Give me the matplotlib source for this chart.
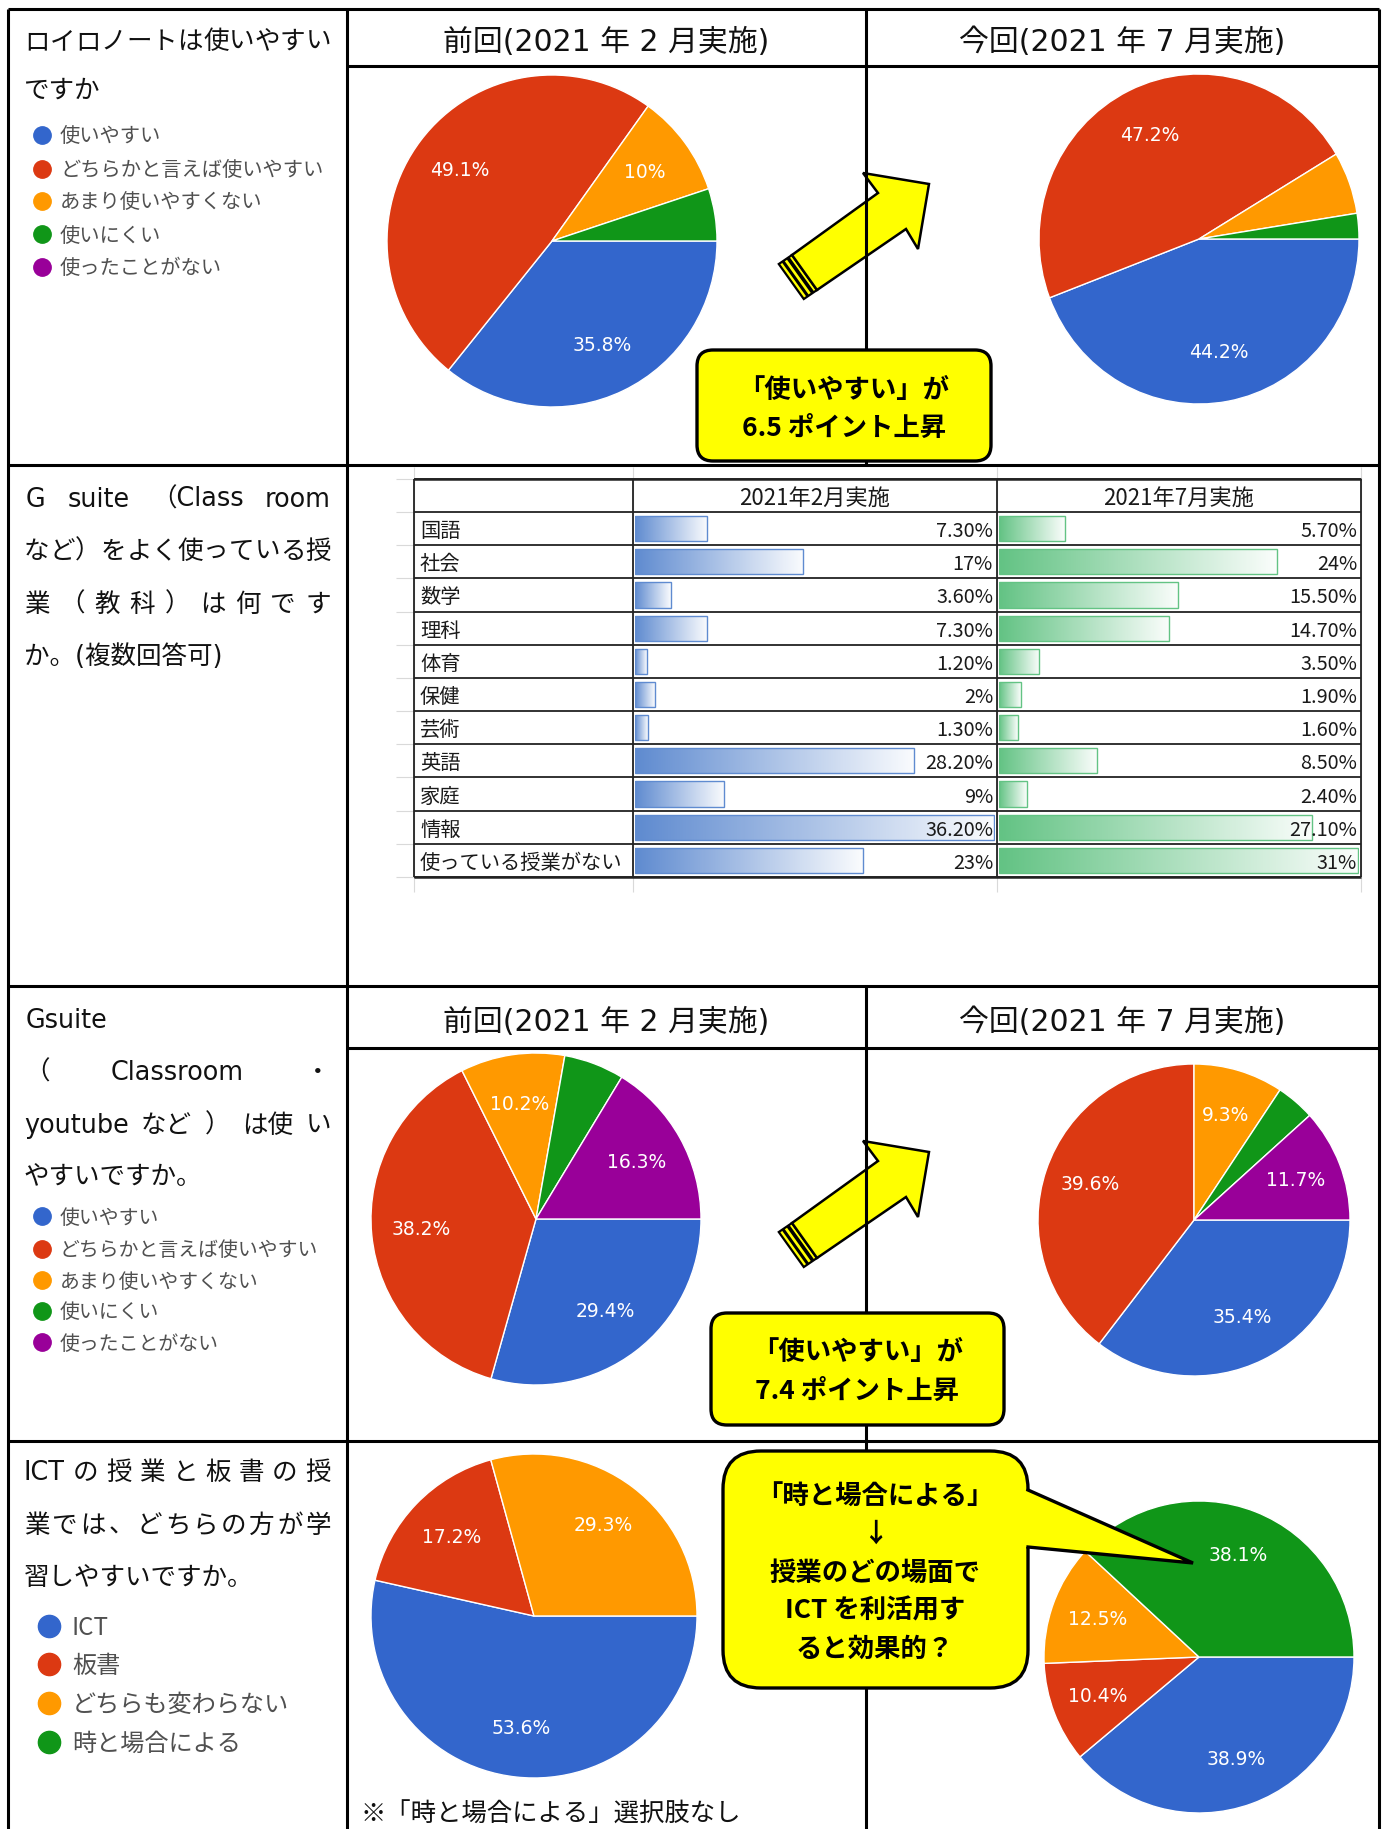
import numpy as np
import matplotlib
matplotlib.use("Agg")
import matplotlib.pyplot as plt
from matplotlib.patches import FancyBboxPatch, Polygon
from matplotlib.colors import LinearSegmentedColormap

# ------------------------------------------------------------------ data
usability_cats = ["使いやすい", "どちらかと言えば使いやすい", "あまり使いやすくない",
                  "使いにくい", "使ったことがない"]
roilo_feb = [35.8, 49.1, 10.0, 5.1, 0.0]
roilo_jul = [44.2, 47.2, 6.1, 2.5, 0.0]
gsuite_feb = [29.4, 38.2, 10.2, 5.9, 16.3]
gsuite_jul = [35.4, 39.6, 9.3, 4.0, 11.7]
ict_cats = ["ICT", "板書", "どちらも変わらない", "時と場合による"]
ict_feb = [53.6, 17.2, 29.3, 0.0]
ict_jul = [38.9, 10.4, 12.5, 38.1]

subjects = ["国語", "社会", "数学", "理科", "体育", "保健", "芸術", "英語", "家庭", "情報",
            "使っている授業がない"]
subj_feb = [7.3, 17.0, 3.6, 7.3, 1.2, 2.0, 1.3, 28.2, 9.0, 36.2, 23.0]
subj_jul = [5.7, 24.0, 15.5, 14.7, 3.5, 1.9, 1.6, 8.5, 2.4, 27.1, 31.0]
subj_feb_labels = ["7.30%", "17%", "3.60%", "7.30%", "1.20%", "2%", "1.30%", "28.20%",
                   "9%", "36.20%", "23%"]
subj_jul_labels = ["5.70%", "24%", "15.50%", "14.70%", "3.50%", "1.90%", "1.60%", "8.50%",
                   "2.40%", "27.10%", "31%"]
table_headers = ["2021年2月実施", "2021年7月実施"]
period_headers = ["前回(2021 年 2 月実施)", "今回(2021 年 7 月実施)"]

# ------------------------------------------------------------------ style
PIE_COLORS = ["#3366CC", "#DC3912", "#FF9900", "#109618", "#990099"]
YELLOW = "#FFFF00"
W, H = 1382, 1829
JP = ["Noto Sans CJK JP", "DejaVu Sans"]
MIX = ["DejaVu Sans", "Noto Sans CJK JP"]
DY = 4  # visual vertical centring correction for CJK text

plt.rcParams["font.family"] = JP
fig = plt.figure(figsize=(W / 100, H / 100), dpi=100)
fig.patch.set_facecolor("white")


def overlay(z):
    ax = fig.add_axes([0, 0, 1, 1])
    ax.set_xlim(0, W)
    ax.set_ylim(H, 0)
    ax.axis("off")
    ax.set_zorder(z)
    return ax


bg = overlay(0)
fg = overlay(10)
renderer = fig.canvas.get_renderer()


def justify(ax, tokens, x0, x1, y, **kw):
    ts = [ax.text(0, y + DY, t, ha="left", va="center", **kw) for t in tokens]
    ws = [t.get_window_extent(renderer).width for t in ts]
    gap = (x1 - x0 - sum(ws)) / max(len(ts) - 1, 1)
    x = x0
    for t, w in zip(ts, ws):
        t.set_x(x)
        x += w + gap


def hline(y, x0, x1, lw=2.2, color="black", ax=None, z=5):
    (ax or bg).plot([x0, x1], [y, y], color=color, lw=lw, solid_capstyle="butt", zorder=z)


def vline(x, y0, y1, lw=2.2, color="black", ax=None, z=5):
    (ax or bg).plot([x, x], [y0, y1], color=color, lw=lw, solid_capstyle="butt", zorder=z)


# ------------------------------------------------------------------ arrows (under grid lines)
def block_arrow(dy):
    pts = np.array([(792, 255), (878, 193), (863, 173), (929, 184), (918, 249),
                    (906, 229), (817, 290)], float)
    pts[:, 1] += dy
    u = np.array([0.826, -0.564])
    a, b = pts[0], pts[-1]
    band = np.array([a, b, b - 16 * u, a - 16 * u])
    bg.add_patch(Polygon(band, closed=True, facecolor=YELLOW, edgecolor="black",
                         lw=1.6, joinstyle="miter", zorder=2))
    for k, lw in ((5, 2.6), (11, 2.2)):
        p, q = a - k * u, b - k * u
        bg.plot([p[0], q[0]], [p[1], q[1]], color="black", lw=lw, zorder=3,
                solid_capstyle="butt")
    bg.add_patch(Polygon(pts, closed=True, facecolor=YELLOW, edgecolor="black",
                         lw=1.8, joinstyle="miter", zorder=3))


block_arrow(0)
block_arrow(968)

# ------------------------------------------------------------------ outer grid
XL, XD1, XD2, XR = 8, 347, 866, 1379
Y_TOP, Y_H1, Y_R1, Y_R2, Y_H3, Y_R3 = 9, 66, 465, 986, 1048, 1441
hline(Y_TOP, XL, XR)
hline(Y_H1, XD1, XR)
hline(Y_R1, XL, XR)
hline(Y_R2, XL, XR)
hline(Y_H3, XD1, XR)
hline(Y_R3, XL, XR)
vline(XL, Y_TOP, H)
vline(XR, Y_TOP, H)
vline(XD1, Y_TOP, H)
vline(XD2, Y_TOP, Y_R1)
vline(XD2, Y_R2, H)

# headers
for yc in ((Y_TOP + Y_H1) / 2, (Y_R2 + Y_H3) / 2):
    bg.text((XD1 + XD2) / 2, yc + DY + 1, period_headers[0], ha="center", va="center",
            fontsize=21.5, family=MIX, color="#111111")
    bg.text((XD2 + XR) / 2, yc + DY + 1, period_headers[1], ha="center", va="center",
            fontsize=21.5, family=MIX, color="#111111")

# ------------------------------------------------------------------ question texts
QK = dict(fontsize=18.4, family=MIX, color="#111111")
QX0, QX1 = 24, 331


def left(x, y, s, **kw):
    bg.text(x, y + DY, s, ha="left", va="center", **kw)


justify(bg, list("ロイロノートは使いやすい"), QX0, QX1, 38, **QK)
left(QX0, 87, "ですか", **QK)

justify(bg, ["G", "suite", "（Class", "room"], QX0 + 2, QX1, 496, **QK)
justify(bg, list("など）をよく使っている授"), QX0, QX1, 548, **QK)
justify(bg, list("業（教科）は何です"), QX0, QX1, 601, **QK)
left(QX0, 653, "か。(複数回答可)", **QK)

left(QX0 + 2, 1017, "Gsuite", **QK)
justify(bg, ["（", "Classroom", "・"], QX0, QX1, 1069, **QK)
justify(bg, ["youtube", "など", "）", "は使", "い"], QX0, QX1, 1122, **QK)
left(QX0, 1173, "やすいですか。", **QK)

justify(bg, ["ICT"] + list("の授業と板書の授"), QX0, QX1, 1469, **QK)
justify(bg, list("業では、どちらの方が学"), QX0, QX1, 1522, **QK)
left(QX0, 1574, "習しやすいですか。", **QK)

left(361, 1811, "※「時と場合による」選択肢なし", fontsize=18.3, color="#111111")


# ------------------------------------------------------------------ legends
def legend(cats, ys, cx, tx, ms, fs):
    for cat, y, col in zip(cats, ys, PIE_COLORS):
        bg.plot([cx], [y + 2], "o", ms=ms, color=col, zorder=4)
        bg.text(tx, y + DY, cat, ha="left", va="center", fontsize=fs, color="#505050")


legend(usability_cats, [133, 167, 199, 232, 265], 42, 60, 12.5, 14.6)
legend(usability_cats, [1214, 1247, 1278, 1309, 1340], 42, 60, 12.5, 14.3)
legend(ict_cats, [1624, 1662, 1701, 1740], 49, 72, 16, 17.4)


# ------------------------------------------------------------------ pies
def draw_pie(cx, cy, rx, ry, values, colors):
    ax = fig.add_axes([(cx - rx) / W, 1 - (cy + ry) / H, 2 * rx / W, 2 * ry / H])
    ax.set_zorder(1)
    vals = [v for v in values if v > 0]
    cols = [c for v, c in zip(values, colors) if v > 0]
    it = iter(vals)

    def fmt(_p):
        v = next(it)
        return f"{v:g}%" if v >= 7 else ""

    ax.pie(vals, colors=cols, startangle=0, counterclock=False, autopct=fmt,
           pctdistance=0.7, wedgeprops=dict(edgecolor="white", linewidth=1.0),
           textprops=dict(color="white", fontsize=13.5, family="DejaVu Sans"))
    ax.set_aspect("auto")
    ax.set_xlim(-1.0, 1.0)
    ax.set_ylim(-1.0, 1.0)
    ax.axis("off")


draw_pie(552, 241, 165, 166, roilo_feb, PIE_COLORS)
draw_pie(1199, 239, 160, 165, roilo_jul, PIE_COLORS)
draw_pie(536, 1219, 165, 166, gsuite_feb, PIE_COLORS)
draw_pie(1194, 1220, 156, 156, gsuite_jul, PIE_COLORS)
draw_pie(534, 1616, 163, 162, ict_feb, PIE_COLORS)
draw_pie(1199, 1657, 155, 156, ict_jul, PIE_COLORS)

# ------------------------------------------------------------------ table (row 2)
TX = [414, 633, 997, 1361]
T_TOP, T_HEAD, T_BOT = 479, 512, 877
n = len(subjects)
rh = (T_BOT - T_HEAD) / n
TDY = 3

# faint spreadsheet gridlines
for x in TX:
    vline(x, 467, 892, lw=0.8, color="#d9d9d9", z=1)
for y in [T_TOP, T_HEAD] + [T_HEAD + (i + 1) * rh for i in range(n)]:
    hline(y, 396, TX[0], lw=0.8, color="#d9d9d9", z=1)

# table borders
ys = [T_TOP, T_HEAD] + [T_HEAD + (i + 1) * rh for i in range(n)]
for y in ys:
    hline(y, TX[0], TX[3], lw=1.3, color="#222222", z=6)
for x in TX:
    vline(x, T_TOP, T_BOT, lw=1.3, color="#222222", z=6)
hline(T_TOP, TX[0], TX[3], lw=1.8, color="#222222", z=6)
hline(T_BOT, TX[0], TX[3], lw=1.8, color="#222222", z=6)

for j, hdr in enumerate(table_headers):
    bg.text((TX[j + 1] + TX[j + 2]) / 2, (T_TOP + T_HEAD) / 2 + TDY, hdr, ha="center",
            va="center", fontsize=16, color="#1a1a1a")
for i, s in enumerate(subjects):
    bg.text(TX[0] + 6, T_HEAD + (i + 0.5) * rh + TDY, s, ha="left", va="center",
            fontsize=14.6, color="#1a1a1a")


def data_bars(x0, x1, values, labels, color):
    ax = fig.add_axes([(x0 + 2) / W, 1 - T_BOT / H, (x1 - x0 - 4) / W, (T_BOT - T_HEAD) / H])
    ax.set_zorder(2)
    cmap = LinearSegmentedColormap.from_list("db", [color, "#FFFFFF"])
    grad = np.linspace(0.0, 0.97, 256)[None, :]
    bars = ax.barh(np.arange(len(values)), values, height=0.76, color="none",
                   edgecolor=color, linewidth=1.0, zorder=3)
    for i, (b, v) in enumerate(zip(bars, values)):
        im = ax.imshow(grad, cmap=cmap, vmin=0, vmax=1, extent=(0, v, i + 0.38, i - 0.38),
                       aspect="auto", interpolation="bilinear", zorder=2)
        im.set_clip_path(b)
    ax.set_xlim(0, max(values) * 1.004)
    ax.set_ylim(len(values) - 0.5, -0.5)
    ax.axis("off")
    for i, lab in enumerate(labels):
        fg.text(x1 - 4, T_HEAD + (i + 0.5) * rh + TDY, lab, ha="right", va="center",
                fontsize=14.3, color="#1a1a1a")


data_bars(TX[1], TX[2], subj_feb, subj_feb_labels, "#5F8BD0")
data_bars(TX[2], TX[3], subj_jul, subj_jul_labels, "#63C384")


# ------------------------------------------------------------------ callouts
def callout(x0, y0, x1, y1, lines, ys):
    fg.add_patch(FancyBboxPatch((x0, y0), x1 - x0, y1 - y0,
                                boxstyle="round,pad=0,rounding_size=16",
                                fc=YELLOW, ec="black", lw=2.4, zorder=2))
    for t, y in zip(lines, ys):
        fg.text((x0 + x1) / 2, y + 3, t, ha="center", va="center", fontsize=19,
                fontweight="bold", color="black", zorder=5)


callout(697, 350, 991, 461, ["「使いやすい」が", "6.5 ポイント上昇"], [387, 425])
callout(711, 1313, 1004, 1425, ["「使いやすい」が", "7.4 ポイント上昇"], [1350, 1388])

# speech bubble
fg.add_patch(FancyBboxPatch((723, 1451), 305, 237, boxstyle="round,pad=0,rounding_size=38",
                            fc=YELLOW, ec="black", lw=2.4, zorder=2))
fg.add_patch(Polygon([(1016, 1490), (1028, 1490), (1193, 1563), (1028, 1547), (1016, 1547)],
                     closed=True, fc=YELLOW, ec="none", zorder=3))
fg.plot([1028, 1193, 1028], [1490, 1563, 1547], color="black", lw=2.4, zorder=4,
        solid_joinstyle="miter")
for t, y in zip(["「時と場合による」", "↓", "授業のどの場面で", "ICT を利活用す", "ると効果的？"],
                [1495, 1532, 1571, 1609, 1647]):
    fg.text(875, y + 2, t, ha="center", va="center", fontsize=19, fontweight="bold",
            color="black", zorder=5, family=JP)

fig.savefig("out.png", dpi=100, facecolor="white")
